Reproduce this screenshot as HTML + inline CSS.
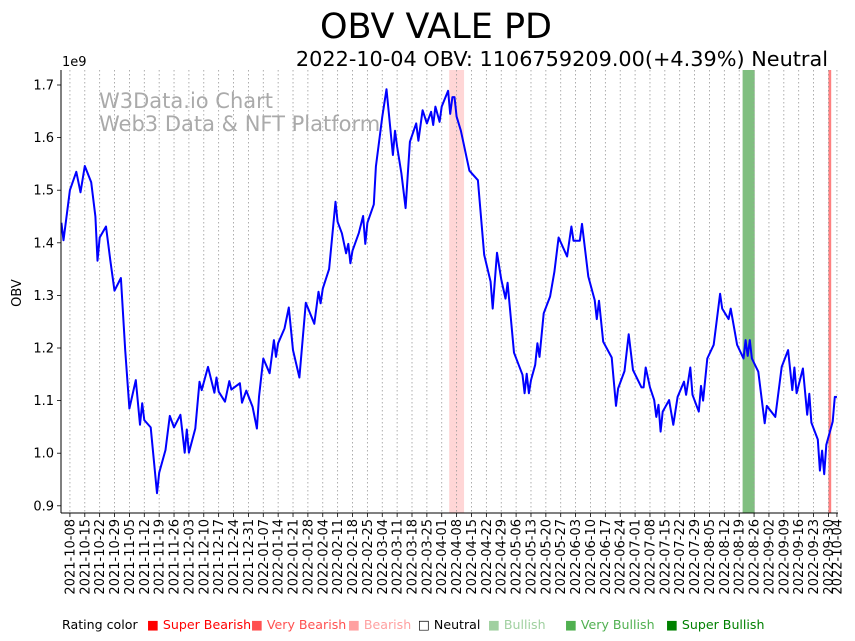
<!DOCTYPE html>
<html><head><meta charset="utf-8"><style>
html,body{margin:0;padding:0;background:#fff;width:855px;height:641px;overflow:hidden}
svg{display:block;font-family:"DejaVu Sans","Liberation Sans",sans-serif}
</style></head><body>
<svg id="chart" width="855" height="641" viewBox="0 0 855 641">
<text x="436" y="38" font-size="35" text-anchor="middle">OBV VALE PD</text>
<text x="828" y="66" font-size="20.8" text-anchor="end">2022-10-04 OBV: 1106759209.00(+4.39%) Neutral</text>
<text x="62" y="66" font-size="13">1e9</text>
<text transform="translate(21,293) rotate(-90)" font-size="13" text-anchor="middle">OBV</text>
<g id="bands"></g><g id="grid"></g>
<text x="99" y="108" font-size="21" fill="#aaa">W3Data.io Chart</text>
<text x="99" y="131" font-size="21" fill="#aaa">Web3 Data &amp; NFT Platform</text>
<g id="series"></g><g id="axes"></g>
<g font-size="12.6">
<text x="62" y="629">Rating color</text>
<text x="147" y="629" fill="#ff0000">■ Super Bearish</text>
<text x="251" y="629" fill="#ff5050">■ Very Bearish</text>
<text x="348" y="629" fill="#ffa0a0">■ Bearish</text>
<text x="418" y="629" fill="#000">□ Neutral</text>
<text x="488" y="629" fill="#a0d0a0">■ Bullish</text>
<text x="565" y="629" fill="#50b050">■ Very Bullish</text>
<text x="666" y="629" fill="#008000">■ Super Bullish</text>
</g>
</svg>
<script>
// day offsets from 2021-10-08
const days=[-4,-3,0,3,5,7,10,12,13,14,17,19,21,24,26,28,31,33,34,35,38,41,42,45,47,49,52,54,55,56,59,61,62,65,68,69,70,73,75,76,80,81,83,86,88,89,91,94,96,97,98,101,103,105,108,111,115,117,118,119,122,125,126,128,130,131,132,133,136,138,139,140,143,144,147,149,152,153,154,156,158,160,163,164,166,168,170,171,172,174,175,178,179,180,181,182,184,188,192,195,198,199,201,203,205,206,209,213,214,215,216,217,219,220,221,223,226,228,230,234,236,237,240,241,244,247,248,249,251,255,257,258,261,263,265,269,270,271,273,275,276,277,278,279,282,284,286,289,290,292,293,296,297,298,300,303,306,307,310,311,314,317,318,319,320,321,324,327,328,332,335,338,340,341,342,345,347,348,349,352,353,354,355,356,359,360,361];
// OBV values in 1e9
const obv=[1.438,1.405,1.500,1.535,1.496,1.546,1.515,1.450,1.366,1.410,1.431,1.367,1.309,1.333,1.196,1.085,1.139,1.054,1.095,1.063,1.049,0.924,0.963,1.006,1.071,1.049,1.073,1.001,1.045,1.001,1.047,1.136,1.120,1.164,1.115,1.144,1.117,1.098,1.137,1.121,1.133,1.096,1.119,1.088,1.047,1.107,1.180,1.152,1.215,1.183,1.209,1.237,1.277,1.196,1.144,1.286,1.246,1.307,1.285,1.313,1.350,1.478,1.440,1.418,1.380,1.398,1.361,1.385,1.419,1.451,1.398,1.438,1.473,1.545,1.640,1.692,1.567,1.613,1.583,1.532,1.466,1.592,1.627,1.594,1.652,1.627,1.649,1.624,1.659,1.630,1.659,1.689,1.645,1.677,1.677,1.640,1.613,1.537,1.519,1.377,1.326,1.275,1.381,1.331,1.294,1.324,1.191,1.149,1.114,1.151,1.114,1.139,1.168,1.209,1.183,1.266,1.298,1.345,1.410,1.374,1.431,1.404,1.404,1.436,1.336,1.291,1.255,1.290,1.212,1.182,1.090,1.123,1.156,1.226,1.158,1.125,1.125,1.163,1.125,1.101,1.069,1.092,1.041,1.079,1.101,1.054,1.107,1.136,1.111,1.163,1.111,1.079,1.128,1.100,1.180,1.206,1.303,1.275,1.255,1.275,1.206,1.180,1.215,1.185,1.215,1.180,1.155,1.057,1.090,1.069,1.164,1.196,1.120,1.163,1.114,1.161,1.073,1.113,1.058,1.026,0.967,1.005,0.960,1.016,1.060,1.107,1.1068];
const yTicks=[0.9,1.0,1.1,1.2,1.3,1.4,1.5,1.6,1.7];
const tickDays=[];for(let i=0;i<=51;i++)tickDays.push(i*7);tickDays.push(361);
const bandStart=[178.5,316.6,357];
const bandEnd=[185.5,322.3,358.3];
const bandColor=["#ffd6d6","#80bf80","#ff8080"];
const X0=61,X1=838,Y0=70,Y1=513;
const D0=-4.2,D1=361.5;
function x(d){return X0+(d-D0)/(D1-D0)*(X1-X0);}
function y(v){return 85+(1.7-v)*526;}
function lbl(d){const t=new Date(Date.UTC(2021,9,8)+d*864e5);return t.toISOString().slice(0,10);}
const NS="http://www.w3.org/2000/svg";
function mk(tag,attrs,parent){const e=document.createElementNS(NS,tag);for(const k in attrs)e.setAttribute(k,attrs[k]);document.getElementById(parent).appendChild(e);return e;}
for(let i=0;i<bandStart.length;i++){
 const r=mk("rect",{x:x(bandStart[i]),y:Y0,width:x(bandEnd[i])-x(bandStart[i]),height:Y1-Y0,fill:bandColor[i]},"bands");
 
 
}
tickDays.forEach(d=>{
 const g=mk("line",{x1:x(d),x2:x(d),y1:Y0,y2:Y1,stroke:"#999","stroke-width":0.8,"stroke-dasharray":"1.5,2.5"},"grid");
 
 
 const t=mk("line",{x1:x(d),x2:x(d),y1:Y1,y2:Y1+4,stroke:"#000","stroke-width":0.8},"axes");
 
 
 const tx=mk("text",{transform:`translate(${x(d)+4.5},${Y1+6}) rotate(-90)`,"font-size":13,"text-anchor":"end"},"axes");
 tx.textContent=lbl(d);
 
 
});
yTicks.forEach(v=>{
 const t=mk("line",{x1:X0-4,x2:X0,y1:y(v),y2:y(v),stroke:"#000","stroke-width":0.8},"axes");
 
 
 const tx=mk("text",{x:X0-7,y:y(v)+4.5,"font-size":13,"text-anchor":"end"},"axes");
 tx.textContent=v.toFixed(1);
 
 
});
const lx=mk("line",{x1:X0,x2:X0,y1:Y0,y2:Y1,stroke:"#000","stroke-width":1},"axes");


const bx=mk("line",{x1:X0,x2:X1,y1:Y1,y2:Y1,stroke:"#000","stroke-width":1},"axes");


const p=mk("polyline",{points:days.map((d,i)=>x(d).toFixed(1)+","+y(obv[i]).toFixed(1)).join(" "),fill:"none",stroke:"#0000ff","stroke-width":2,"stroke-linejoin":"round"},"series");


</script>
</body></html>
